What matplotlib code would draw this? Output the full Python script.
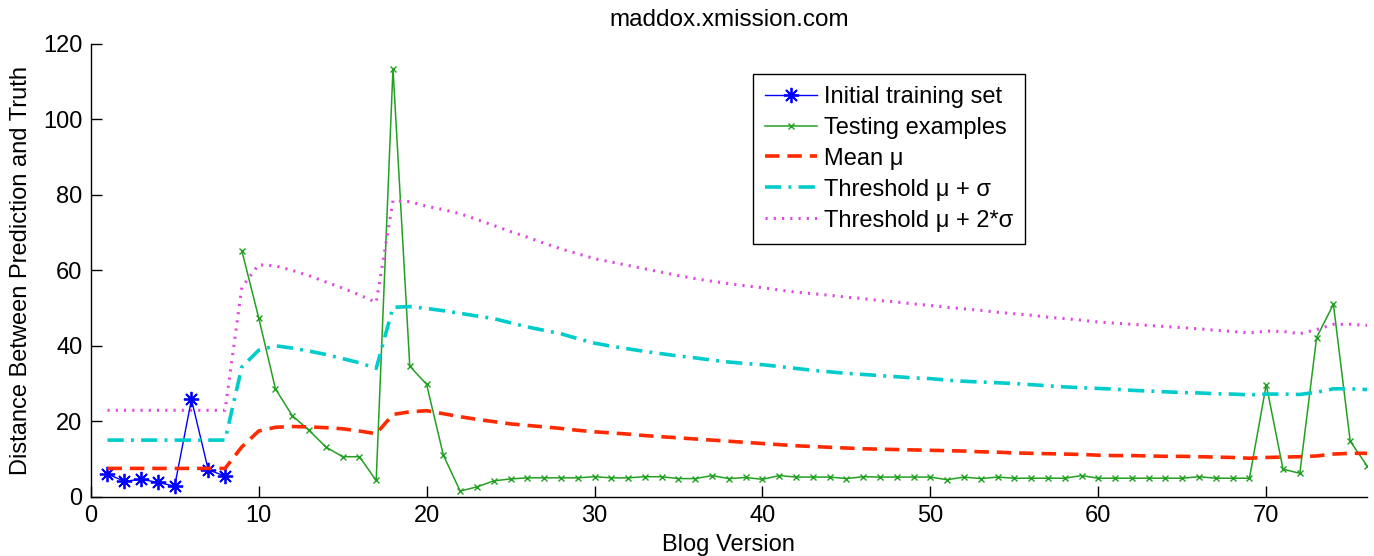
import matplotlib
matplotlib.use("Agg")
import matplotlib.pyplot as plt
import numpy as np

plt.rcParams['font.family'] = ['Liberation Sans', 'DejaVu Sans']

title = "maddox.xmission.com"
xlabel = "Blog Version"
ylabel = "Distance Between Prediction and Truth"

train_x = [1, 2, 3, 4, 5, 6, 7, 8]
train_y = [6.0, 4.1, 4.6, 3.8, 2.8, 25.8, 7.1, 5.5]

test_x = list(range(9, 77))
test_y = [65.2, 47.5, 28.6, 21.5, 17.6, 13.2, 10.6, 10.6, 4.3, 113.5,
          34.6, 29.8, 11.0, 1.5, 2.6, 4.2, 4.7, 5.0, 5.0, 5.0,
          5.0, 5.3, 5.0, 5.0, 5.3, 5.3, 4.8, 4.8, 5.6, 4.8,
          5.1, 4.6, 5.6, 5.2, 5.2, 5.2, 4.8, 5.3, 5.2, 5.2,
          5.2, 5.2, 4.5, 5.2, 4.8, 5.2, 4.9, 4.9, 4.9, 4.9,
          5.6, 4.9, 4.9, 4.9, 4.9, 4.9, 4.9, 5.3, 4.9, 4.9,
          4.9, 29.7, 7.3, 6.2, 42.2, 51.0, 14.7, 8.2]

all_x = list(range(1, 77))
mean_y = [7.5, 7.5, 7.5, 7.5, 7.5, 7.5, 7.5, 7.5,
          13.2, 17.4, 18.4, 18.6, 18.5, 18.3, 18.0, 17.4, 16.7, 21.8,
          22.5, 22.8, 22.0, 21.2, 20.5, 19.9, 19.3, 18.9, 18.5, 18.1,
          17.6, 17.2, 16.9, 16.6, 16.2, 15.9, 15.6, 15.3, 15.0, 14.7,
          14.4, 14.1, 13.8, 13.5, 13.3, 13.1, 12.9, 12.7, 12.6, 12.5,
          12.4, 12.3, 12.2, 12.1, 11.9, 11.8, 11.6, 11.5, 11.4, 11.3,
          11.2, 11.0, 10.9, 10.9, 10.8, 10.7, 10.7, 10.6, 10.5, 10.4,
          10.2, 10.4, 10.5, 10.6, 10.8, 11.3, 11.5, 11.5]
thr1_y = [15.0, 15.0, 15.0, 15.0, 15.0, 15.0, 15.0, 15.0,
          34.4, 38.8, 40.0, 39.4, 38.6, 37.7, 36.6, 35.5, 34.0, 50.2,
          50.4, 49.9, 49.3, 48.6, 47.9, 47.2, 46.1, 45.0, 44.1, 43.2,
          41.9, 40.7, 39.9, 39.2, 38.5, 37.9, 37.3, 36.8, 36.2, 35.7,
          35.3, 35.0, 34.5, 34.0, 33.5, 33.1, 32.7, 32.4, 32.1, 31.8,
          31.5, 31.3, 30.9, 30.6, 30.4, 30.2, 30.0, 29.7, 29.4, 29.1,
          28.9, 28.7, 28.5, 28.2, 28.0, 27.8, 27.6, 27.5, 27.3, 27.2,
          27.0, 27.2, 27.2, 27.1, 27.7, 28.6, 28.6, 28.4]
thr2_y = [22.9, 22.9, 22.9, 22.9, 22.9, 22.9, 22.9, 22.9,
          55.5, 61.5, 61.2, 60.0, 58.6, 56.9, 55.3, 53.5, 51.5, 78.5,
          78.2, 77.0, 76.1, 75.0, 73.5, 71.9, 70.3, 68.8, 67.2, 65.7,
          64.4, 63.1, 62.2, 61.3, 60.4, 59.5, 58.6, 57.8, 57.1, 56.5,
          55.9, 55.4, 54.8, 54.2, 53.8, 53.4, 52.9, 52.5, 52.0, 51.6,
          51.1, 50.7, 50.2, 49.8, 49.4, 48.9, 48.5, 48.1, 47.6, 47.2,
          46.8, 46.3, 46.0, 45.7, 45.4, 45.1, 44.8, 44.5, 44.1, 43.8,
          43.4, 43.9, 43.8, 43.2, 44.3, 45.7, 45.7, 45.4]

labels = ["Initial training set", "Testing examples", "Mean μ",
          "Threshold μ + σ", "Threshold μ + 2*σ"]

fig = plt.figure(figsize=(13.74, 5.56), dpi=100)
ax = fig.add_axes([90.7 / 1374, 1 - 496.7 / 556, (1367 - 90.7) / 1374, (496.7 - 44) / 556])

ax.plot(train_x, train_y, color='#0000ff', lw=1.0, marker=(8, 2, 0), ms=11, mew=1.3, label=labels[0])
ax.plot(test_x, test_y, color='#22a022', lw=1.1, marker='x', ms=5, mew=1.0, label=labels[1])
ax.plot(all_x, mean_y, color='#ff2a00', lw=2.6, ls=(0, (4, 2.2)), label=labels[2])
ax.plot(all_x, thr1_y, color='#00cccc', lw=2.6, ls=(0, (4.5, 2, 0.8, 2)), label=labels[3])
ax.plot(all_x, thr2_y, color='#e048e0', lw=2.2, ls=(0, (0.7, 2.0)), label=labels[4])

ax.set_xlim(0, 76)
ax.set_ylim(0, 120)
ax.set_xticks(np.arange(0, 71, 10))
ax.set_yticks(np.arange(0, 121, 20))
ax.tick_params(direction='in', length=8, width=1, labelsize=17, pad=6)
for s in ['top', 'right']:
    ax.spines[s].set_visible(False)
for s in ['left', 'bottom']:
    ax.spines[s].set_linewidth(1.0)

ax.set_title(title, fontsize=17.5, pad=13)
ax.set_xlabel(xlabel, fontsize=17, labelpad=5)
ax.set_ylabel(ylabel, fontsize=17, labelpad=8)

leg = ax.legend(loc='upper left', bbox_to_anchor=(753 / 1374, 1 - 74 / 556),
                bbox_transform=fig.transFigure, fontsize=17, frameon=True,
                fancybox=False, edgecolor='black', framealpha=1,
                borderpad=0.5, labelspacing=0.38, handlelength=2.2,
                handletextpad=0.3, borderaxespad=0)
leg.get_frame().set_linewidth(1.0)

fig.savefig("out.png", dpi=100)
